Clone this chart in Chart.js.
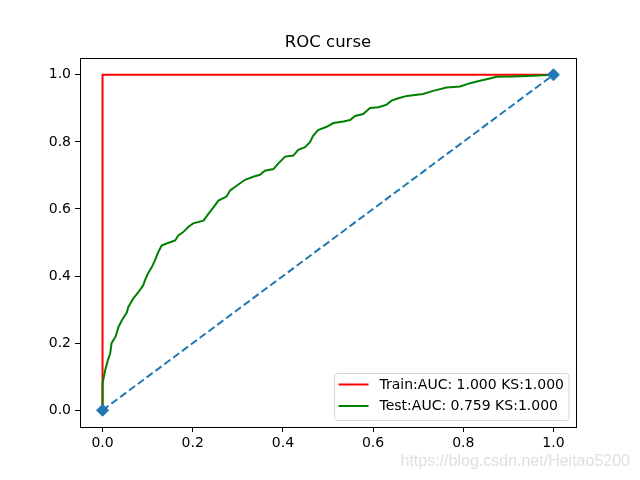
<!DOCTYPE html>
<html>
<head>
<meta charset="utf-8">
<title>ROC curse</title>
<script src="https://cdn.jsdelivr.net/npm/chart.js@4/dist/chart.umd.min.js"></script>
<style>
    html, body { margin: 0; padding: 0; background: #fff; }
    #wrap { width: 640px; height: 480px; }
</style>
</head>
<body>
<div id="wrap"><canvas id="rocChart" width="640" height="480"></canvas></div>
<script>
/* ── Data ─────────────────────────────────────────────────────── */
const titleText   = 'ROC curse';
const trainLabel  = 'Train:AUC: 1.000 KS:1.000';
const testLabel   = 'Test:AUC: 0.759 KS:1.000';
const watermark   = 'https://blog.csdn.net/Heitao5200';

const xTicks = [0, 0.2, 0.4, 0.6, 0.8, 1.0];
const yTicks = [0, 0.2, 0.4, 0.6, 0.8, 1.0];

const trainFpr = [0, 0, 1];
const trainTpr = [0, 1, 1];

const testFpr = [0, 0, 0.006, 0.012, 0.017, 0.02, 0.029, 0.035, 0.043, 0.054, 0.057,
    0.068, 0.079, 0.09, 0.094, 0.101, 0.109, 0.116, 0.123, 0.131, 0.142, 0.161,
    0.168, 0.179, 0.19, 0.201, 0.224, 0.235, 0.246, 0.257, 0.275, 0.283, 0.298,
    0.316, 0.334, 0.349, 0.36, 0.379, 0.39, 0.405, 0.423, 0.434, 0.449, 0.46,
    0.467, 0.478, 0.497, 0.512, 0.534, 0.549, 0.56, 0.578, 0.593, 0.612, 0.63,
    0.641, 0.656, 0.675, 0.711, 0.733, 0.763, 0.793, 0.815, 0.837, 0.859, 0.874,
    0.911, 0.955, 1.0];
const testTpr = [0, 0.08, 0.12, 0.15, 0.17, 0.20, 0.22, 0.247, 0.268, 0.292, 0.307,
    0.333, 0.351, 0.372, 0.387, 0.408, 0.426, 0.446, 0.47, 0.491, 0.497, 0.506,
    0.521, 0.531, 0.546, 0.557, 0.565, 0.586, 0.605, 0.625, 0.637, 0.655, 0.67,
    0.687, 0.696, 0.702, 0.714, 0.719, 0.736, 0.756, 0.759, 0.776, 0.784, 0.799,
    0.818, 0.835, 0.845, 0.856, 0.861, 0.865, 0.877, 0.883, 0.901, 0.903, 0.911,
    0.923, 0.93, 0.937, 0.943, 0.952, 0.962, 0.965, 0.975, 0.982, 0.989, 0.994,
    0.995, 0.997, 1.0];

const diagX = [0, 1];
const diagY = [0, 1];

/* ── Helpers ──────────────────────────────────────────────────── */
const FONT = "'DejaVu Sans', sans-serif";
const toPoints = (xs, ys) => xs.map((x, i) => ({ x: x, y: ys[i] }));

// Frame, title, legend box and watermark, drawn after the chart
const decorPlugin = {
    id: 'decor',
    afterDraw(chart) {
        const ctx = chart.ctx;
        const a   = chart.chartArea;
        ctx.save();

        // axes frame (all four spines)
        ctx.strokeStyle = '#000';
        ctx.lineWidth = 1;
        ctx.strokeRect(Math.round(a.left) + 0.5, Math.round(a.top) + 0.5,
                       Math.round(a.right - a.left), Math.round(a.bottom - a.top));

        // title
        ctx.fillStyle = '#000';
        ctx.font = '16.5px ' + FONT;
        ctx.textAlign = 'center';
        ctx.textBaseline = 'middle';
        ctx.fillText(titleText, (a.left + a.right) / 2, 43);

        // legend (lower right)
        const items = [
            { text: trainLabel, color: '#ff0000' },
            { text: testLabel,  color: '#008000' },
        ];
        ctx.font = '14px ' + FONT;
        const textW = Math.max(...items.map(it => ctx.measureText(it.text).width));
        const boxR = a.right - 7, boxB = a.bottom - 6.5;
        const boxW = textW + 50, boxH = 47;
        const boxL = boxR - boxW, boxT = boxB - boxH;
        ctx.beginPath();
        if (ctx.roundRect) ctx.roundRect(boxL, boxT, boxW, boxH, 3);
        else ctx.rect(boxL, boxT, boxW, boxH);
        ctx.fillStyle = 'rgba(255,255,255,0.8)';
        ctx.fill();
        ctx.strokeStyle = '#d6d6d6';
        ctx.stroke();

        items.forEach((it, i) => {
            const y = boxT + 11 + i * 21.5;
            ctx.strokeStyle = it.color;
            ctx.lineWidth = 2;
            ctx.beginPath();
            ctx.moveTo(boxL + 4, y);
            ctx.lineTo(boxL + 34, y);
            ctx.stroke();
            ctx.fillStyle = '#000';
            ctx.textAlign = 'left';
            ctx.textBaseline = 'middle';
            ctx.fillText(it.text, boxL + 45, y + 0.5);
        });

        // watermark
        ctx.font = "16px 'Liberation Sans', Arial, sans-serif";
        ctx.fillStyle = '#e0e0e0';
        ctx.textAlign = 'right';
        ctx.textBaseline = 'middle';
        ctx.fillText(watermark, 630, 462);

        ctx.restore();
    }
};

/* ── Chart ────────────────────────────────────────────────────── */
new Chart(document.getElementById('rocChart'), {
    type: 'scatter',
    data: {
        datasets: [
            {
                label: trainLabel,
                data: toPoints(trainFpr, trainTpr),
                showLine: true,
                borderColor: '#ff0000',
                borderWidth: 2,
                pointRadius: 0,
                order: 3,
            },
            {
                label: testLabel,
                data: toPoints(testFpr, testTpr),
                showLine: true,
                borderColor: '#008000',
                borderWidth: 2,
                pointRadius: 0,
                order: 2,
            },
            {
                label: 'diagonal',
                data: toPoints(diagX, diagY),
                showLine: true,
                borderColor: '#1f77b4',
                backgroundColor: '#1f77b4',
                borderWidth: 2,
                borderDash: [7.5, 3.5],
                pointStyle: 'rectRot',
                pointRadius: 6,
                pointBorderWidth: 1,
                pointBorderColor: '#1f77b4',
                order: 1,
            },
        ]
    },
    options: {
        responsive: false,
        animation: false,
        layout: { padding: { top: 58, right: 64, left: 0, bottom: 0 } },
        plugins: {
            legend:  { display: false },
            title:   { display: false },
            tooltip: { enabled: false },
        },
        scales: {
            x: {
                type: 'linear',
                min: -0.05,
                max: 1.05,
                afterBuildTicks: s => { s.ticks = xTicks.map(v => ({ value: v })); },
                afterFit: s => { s.height = 53; },
                grid: { drawOnChartArea: false, drawTicks: true, tickLength: 5, color: '#000' },
                border: { display: false },
                ticks: {
                    color: '#000',
                    font: { family: FONT, size: 14 },
                    padding: 3,
                    maxRotation: 0,
                    callback: v => Number(v).toFixed(1),
                },
            },
            y: {
                type: 'linear',
                min: -0.05,
                max: 1.05,
                afterBuildTicks: s => { s.ticks = yTicks.map(v => ({ value: v })); },
                afterFit: s => { s.width = 80; },
                grid: { drawOnChartArea: false, drawTicks: true, tickLength: 5, color: '#000' },
                border: { display: false },
                ticks: {
                    color: '#000',
                    font: { family: FONT, size: 14 },
                    padding: 4,
                    callback: v => Number(v).toFixed(1),
                },
            },
        },
    },
    plugins: [decorPlugin],
});
</script>
</body>
</html>
